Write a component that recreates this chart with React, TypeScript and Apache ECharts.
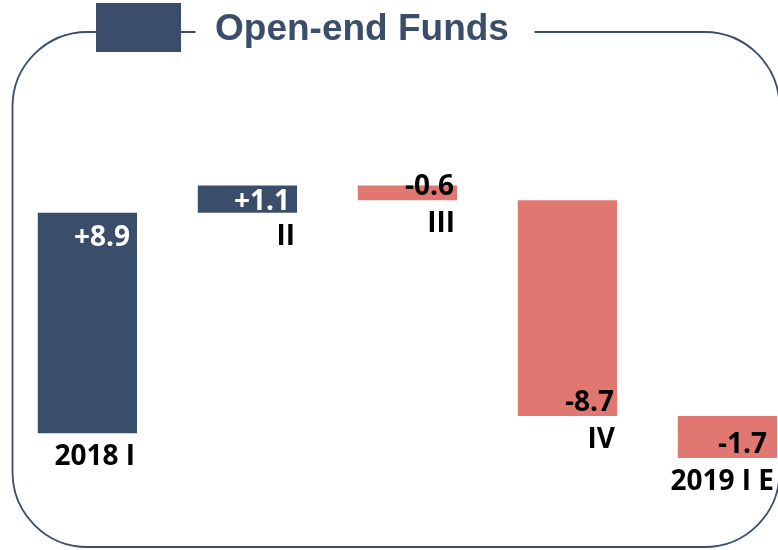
import React, { useEffect, useRef } from "react";
import * as echarts from "echarts";

const categories = ["2018 I", "II", "III", "IV", "2019 I E"];
const changes = [8.9, 1.1, -0.6, -8.7, -1.7];
const valueLabels = ["+8.9", "+1.1", "-0.6", "-8.7", "-1.7"];
const titleText = "Open-end Funds";

const NAVY = "#3a4e6b";
const SALMON = "#e07771";
const LABEL_FONT = "bold 28px 'Open Sans', sans-serif";
const VIEW_W = 778;

export default function App() {
  const ref = useRef<HTMLDivElement>(null);

  useEffect(() => {
    const chart = echarts.init(ref.current!, null, { renderer: "svg" });
    let run = 0;
    const data = changes.map((c, i) => {
      const start = run;
      run = Math.round((run + c) * 10) / 10;
      return [i, start, run, c];
    });

    chart.setOption({
      animation: false,
      grid: {
        left: 7.4,
        width: 800,
        top: 135.8,
        height: 396.6,
        outerBoundsMode: "none",
        containLabel: false,
      },
      xAxis: {
        type: "category",
        data: categories,
        show: false,
      },
      yAxis: {
        type: "value",
        min: -4,
        max: 12,
        show: false,
      },
      graphic: [
        {
          type: "rect",
          z: 1,
          shape: { x: 12.5, y: 32, width: 767, height: 515, r: 75 },
          style: { fill: "none", stroke: NAVY, lineWidth: 1.8 },
        },
        {
          type: "rect",
          z: 2,
          shape: { x: 195.5, y: 24, width: 339, height: 16 },
          style: { fill: "#ffffff" },
        },
        {
          type: "rect",
          z: 3,
          shape: { x: 96, y: 3, width: 85, height: 49 },
          style: { fill: NAVY },
        },
        {
          type: "text",
          z: 3,
          x: 215,
          y: 27,
          style: {
            text: titleText,
            fill: NAVY,
            font: "bold 37px 'Liberation Sans', Arial, sans-serif",
            align: "left",
            verticalAlign: "middle",
          },
        },
      ],
      series: [
        {
          type: "custom",
          data,
          clip: false,
          encode: { x: 0, y: [1, 2] },
          renderItem: (params: any, api: any) => {
            const i = api.value(0);
            const a = api.value(1);
            const b = api.value(2);
            const c = api.value(3);
            const hi = Math.max(a, b);
            const lo = Math.min(a, b);
            const pTop = api.coord([i, hi]);
            const pBot = api.coord([i, lo]);
            const w = api.size([1, 0])[0] * 0.62;
            const x = pTop[0] - w / 2;
            const top = pTop[1];
            const bottom = pBot[1];
            const h = bottom - top;
            const right = x + w;
            const visRight = Math.min(right, VIEW_W - 4);
            const pos = c >= 0;
            const labelY = pos ? top + Math.min(22, h / 2) : bottom - 16;
            return {
              type: "group",
              children: [
                {
                  type: "rect",
                  shape: { x, y: top, width: w, height: h },
                  style: { fill: pos ? NAVY : SALMON },
                },
                {
                  type: "text",
                  x: visRight - (pos ? 7 : 3) - (right > VIEW_W - 4 ? 4 : 0),
                  y: labelY,
                  style: {
                    text: valueLabels[params.dataIndex],
                    fill: pos ? "#ffffff" : "#000000",
                    font: LABEL_FONT,
                    align: "right",
                    verticalAlign: "middle",
                  },
                },
                {
                  type: "text",
                  x: right > VIEW_W - 4 ? visRight : right - 2,
                  y: bottom + 21,
                  style: {
                    text: categories[params.dataIndex],
                    fill: "#000000",
                    font: LABEL_FONT,
                    align: "right",
                    verticalAlign: "middle",
                  },
                },
              ],
            };
          },
        },
      ],
    });

    return () => chart.dispose();
  }, []);

  return (
    <div
      ref={ref}
      style={{ position: "fixed", left: 0, top: 0, width: 778, height: 550 }}
    />
  );
}
